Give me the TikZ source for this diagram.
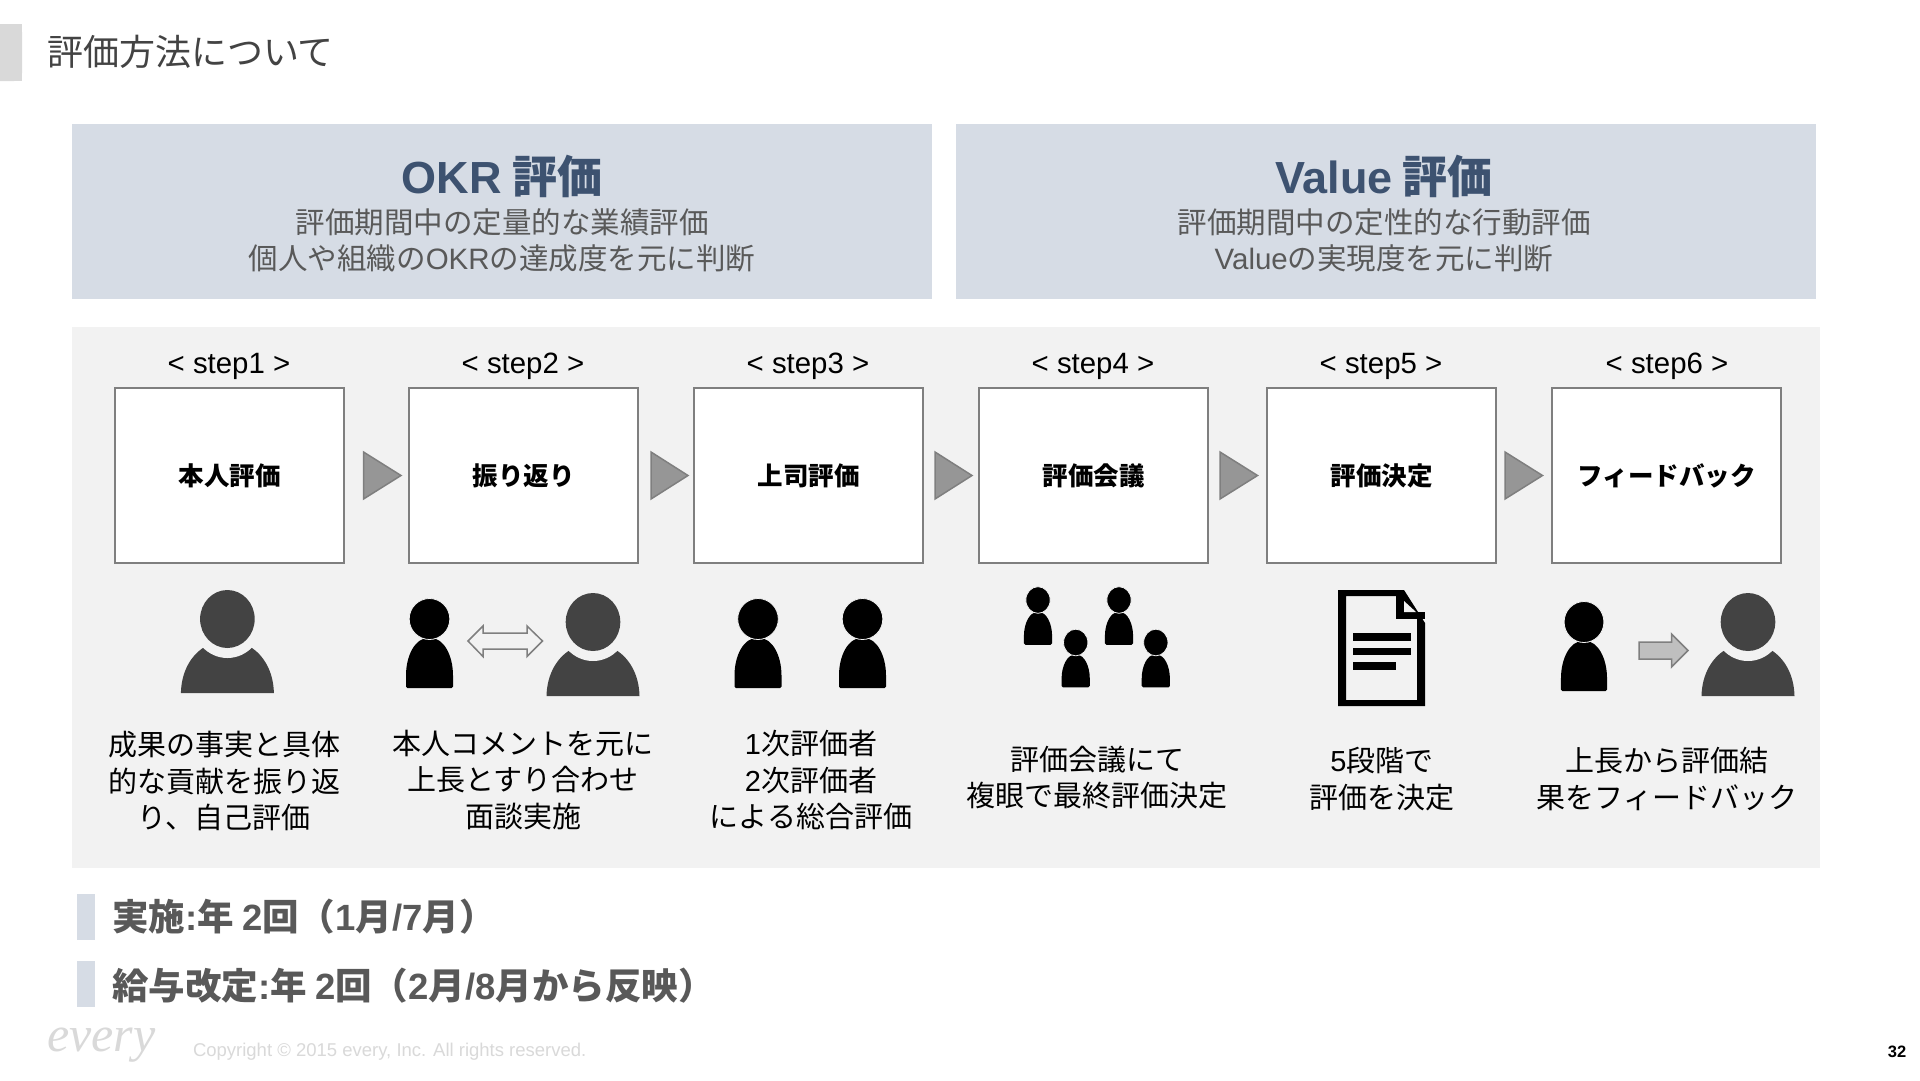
\documentclass[tikz,border=0pt]{standalone}
\usepackage{fontspec}
\setmainfont{Noto Sans CJK JP}
\newfontfamily\latf{Liberation Sans}
\newfontfamily\logof{Liberation Serif}
\newcommand{\Lat}[1]{{\latf #1}}
\newcommand{\fsz}[2]{\fontsize{#1}{#2}\selectfont}
\definecolor{hdrfill}{HTML}{D6DCE5}
\definecolor{panelfill}{HTML}{F2F2F2}
\definecolor{hdrtext}{HTML}{3D5270}
\definecolor{subtext}{HTML}{595959}
\definecolor{boxline}{HTML}{7F7F7F}
\definecolor{trifill}{HTML}{969696}
\definecolor{bigp}{HTML}{434343}
\definecolor{foot}{HTML}{D9D9D9}
\tikzset{
  every node/.style={inner sep=0pt,outer sep=0pt},
  hdrbox/.style={fill=hdrfill,draw=none},
  stepbox/.style={draw=boxline,line width=2pt,fill=white,minimum width=229pt,minimum height=175pt,anchor=north west,font=\fsz{25.5}{30}\bfseries,text=black},
  steplabel/.style={font=\latf\fsz{29.4}{34},text=black},
  desc/.style={font=\fsz{29}{36.4},text=black,align=center},
  hdrtitle/.style={font=\fsz{45}{50}\bfseries,text=hdrtext},
  hdrsub/.style={font=\fsz{29.5}{36},text=subtext,align=center},
  tri/.style={fill=trifill,draw=boxline,line width=1.5pt,line join=miter},
  bullet/.style={fill=hdrfill,draw=none},
  bulltext/.style={font=\fsz{36.5}{40}\bfseries,text=subtext,anchor=west},
}
% small person: centre x, head centre y, x scale, y scale
\newcommand{\smallperson}[4]{%
  \begin{scope}[shift={(#1,#2)},xscale=#3,yscale=#4]
    \fill[black,rounded corners=1.5pt] (-23.5,69) -- (-23.5,58) .. controls (-23.5,36) and (-14,19) .. (0,19) .. controls (14,19) and (23.5,36) .. (23.5,58) -- (23.5,69) -- cycle;
    \draw[fill=black,draw=panelfill,line width=0.8pt] (0,0) ellipse [x radius=20.3,y radius=20.5];
  \end{scope}}
% big person: centre x, head centre y
\newcommand{\bigperson}[2]{%
  \begin{scope}[shift={(#1,#2)}]
    \fill[bigp] (-46.5,74) .. controls (-46,52) and (-36,36) .. (-23,28) -- (23,28) .. controls (36,36) and (46,52) .. (46.5,74) -- cycle;
    \fill[panelfill] (0,0) ellipse [x radius=36,y radius=39];
    \fill[bigp] (0,0) ellipse [x radius=27.3,y radius=29];
  \end{scope}}
\begin{document}
\begin{tikzpicture}[x=1pt,y=-1pt]
\useasboundingbox (0,0) rectangle (1920,1080);
\fill[white] (0,0) rectangle (1920,1080);
% title tab
\fill[foot] (-12,24) rectangle (22,81);
\fill[white] (-12,24) rectangle (0,81);
\fill[foot,rounded corners=8pt] (-12,24) rectangle (22,81);
\node[anchor=west,font=\fsz{36}{40},text=bigp] (title) at (47,52) {評価方法について};
% headers
\fill[hdrbox] (72,124) rectangle (932,299);
\fill[hdrbox] (956,124) rectangle (1816,299);
\node[hdrtitle] (okr) at (502,176) {\Lat{OKR} 評価};
\node[hdrsub] (okrsubA) at (502,222) {評価期間中の定量的な業績評価};
\node[hdrsub] (okrsubB) at (502,258) {個人や組織の\Lat{OKR}の達成度を元に判断};
\node[hdrtitle] (val) at (1384,176) {\Lat{Value} 評価};
\node[hdrsub] (valsubA) at (1384,222) {評価期間中の定性的な行動評価};
\node[hdrsub] (valsubB) at (1384,258) {\Lat{Value}の実現度を元に判断};
% panel
\fill[panelfill] (72,327) rectangle (1820,868);
% step labels
\node[steplabel] (la) at (229,366) {< step1 >};
\node[steplabel] (lb) at (523,366) {< step2 >};
\node[steplabel] (lc) at (808,366) {< step3 >};
\node[steplabel] (ld) at (1093,366) {< step4 >};
\node[steplabel] (le) at (1381,366) {< step5 >};
\node[steplabel] (lf) at (1667,366) {< step6 >};
% boxes
\node[stepbox] (sa) at (115,388) {本人評価};
\node[stepbox] (sb) at (409,388) {振り返り};
\node[stepbox] (sc) at (694,388) {上司評価};
\node[stepbox] (sd) at (979,388) {評価会議};
\node[stepbox] (se) at (1267,388) {評価決定};
\node[stepbox] (sf) at (1552,388) {フィードバック};
% triangles
\draw[tri] (363.5,452) -- (401,475.5) -- (363.5,499) -- cycle;
\draw[tri] (651,452) -- (688,475.5) -- (651,499) -- cycle;
\draw[tri] (935,452) -- (972,475.5) -- (935,499) -- cycle;
\draw[tri] (1220,452) -- (1257.5,475.5) -- (1220,499) -- cycle;
\draw[tri] (1505,452) -- (1542.5,475.5) -- (1505,499) -- cycle;
% icons step 1
\bigperson{227.4}{619}
% step 2
\smallperson{429.5}{619}{1}{1}
\draw[draw=boxline,fill=panelfill,line width=1.5pt,line join=miter] (468,641) -- (483,626) -- (483,633) -- (527,633) -- (527,626) -- (542.5,641) -- (527,656.5) -- (527,649) -- (483,649) -- (483,656.5) -- cycle;
\bigperson{593}{622}
% step 3
\smallperson{758}{619}{1}{1}
\smallperson{862.5}{619}{1}{1}
% step 4
\smallperson{1038}{600}{0.6}{0.65}
\smallperson{1119}{600}{0.6}{0.65}
\smallperson{1075.7}{642.5}{0.6}{0.65}
\smallperson{1155.8}{642.5}{0.6}{0.65}
% step 5 document
\fill[black,even odd rule] (1338,590) -- (1404,590) -- (1425,623) -- (1425,706) -- (1338,706) -- cycle
  (1346,596) -- (1346,700) -- (1417,700) -- (1417,618) -- (1396,618) -- (1396,596) -- cycle;
\fill[black] (1396,590) rectangle (1404,618);
\fill[black] (1396,612) rectangle (1425,618.5);
\fill[panelfill] (1404,601) -- (1416,612) -- (1404,612) -- cycle;
\fill[black] (1353,633) rectangle (1411,641);
\fill[black] (1353,648) rectangle (1411,655);
\fill[black] (1353,662) rectangle (1396,670);
% step 6
\smallperson{1584}{622}{0.98}{1}
\draw[draw=boxline,fill=white!75!black,line width=1.5pt,line join=miter] (1639,642) -- (1671.5,642) -- (1671.5,634) -- (1688,650.5) -- (1671.5,667) -- (1671.5,659) -- (1639,659) -- cycle;
\bigperson{1748}{622}
% descriptions
\node[desc] (da) at (224,781) {成果の事実と具体\\的な貢献を振り返\\り、自己評価};
\node[desc] (db) at (523,780) {本人コメントを元に\\上長とすり合わせ\\面談実施};
\node[desc] (dc) at (811,780) {\Lat{1}次評価者\\\Lat{2}次評価者\\による総合評価};
\node[desc] (dd) at (1097,777.5) {評価会議にて\\複眼で最終評価決定};
\node[desc] (de) at (1382,779) {\Lat{5}段階で\\評価を決定};
\node[desc] (df) at (1667,779) {上長から評価結\\果をフィードバック};
% bottom
\fill[bullet] (76.5,894) rectangle (95,940);
\fill[bullet] (76.5,961) rectangle (95,1007);
\node[bulltext] (ba) at (112,917) {実施\Lat{:}年 \Lat{2}回（\Lat{1}月\Lat{/7}月）};
\node[bulltext] (bb) at (112,986) {給与改定\Lat{:}年 \Lat{2}回（\Lat{2}月\Lat{/8}月から反映）};
% footer
\node[anchor=west,font=\logof\itshape\fsz{50}{50},text=foot] (logo) at (47,1045) {every};
\node[anchor=west,font=\latf\fsz{18.5}{22},text=foot] (copy) at (193,1052) {Copyright © 2015 every, Inc. All rights reserved.};
\node[font=\latf\bfseries\fsz{16.5}{20},text=black] (pg) at (1897,1052) {32};
\end{tikzpicture}
\end{document}
